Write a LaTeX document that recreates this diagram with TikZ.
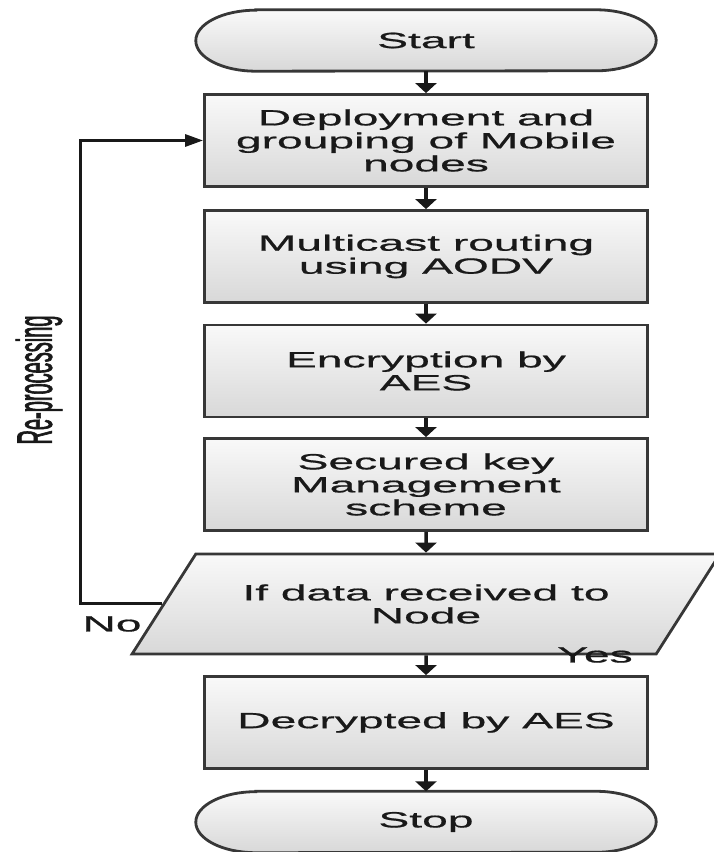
\documentclass[tikz,border=0pt]{standalone}
\usepackage{fontspec}
\usetikzlibrary{arrows.meta, positioning, calc, shapes.geometric, backgrounds}
\newfontfamily\flowfont[FakeStretch=2.1, FakeBold=0.8]{Liberation Sans}
\newfontfamily\sidefont[FakeStretch=0.4, FakeBold=1.2]{Liberation Sans}
\definecolor{boxline}{RGB}{55,55,55}
\definecolor{boxtop}{RGB}{249,249,249}
\definecolor{boxbottom}{RGB}{216,216,216}
\definecolor{ink}{RGB}{25,25,25}

\tikzset{
  flowtext/.style={text=ink, font=\flowfont\fontsize{22}{23}\selectfont},
  stepbox/.style={flowtext, rectangle, draw=boxline, line width=2.8pt,
    top color=boxtop, bottom color=boxbottom, minimum width=443pt,
    minimum height=92pt, inner sep=0pt, align=center},
  termbox/.style={flowtext, rectangle, minimum width=460pt,
    minimum height=61pt, inner sep=0pt},
  termline/.style={draw=boxline, line width=2.8pt, top color=boxtop,
    bottom color=boxbottom},
  decision/.style={flowtext, trapezium, trapezium left angle=37.6,
    trapezium right angle=142.4, trapezium stretches=true,
    minimum width=591pt, minimum height=100pt, draw=boxline,
    line width=2.8pt, top color=boxtop, bottom color=boxbottom,
    inner sep=0pt, align=center},
  flow/.style={draw=ink, line width=3.5pt, -{Triangle[length=10pt, width=21pt]}},
  loopback/.style={draw=ink, line width=3pt, -{Triangle[length=18pt, width=12pt]}},
}

\begin{document}
\begin{tikzpicture}[x=1pt, y=1pt]
  \useasboundingbox (0,0) rectangle (713,852);

  % main column
  \node[termbox] (start) at (426,811.5) {Start};
  \node[stepbox] (deploy) at (426,711.5) {Deployment and\\grouping of Mobile\\nodes};
  \node[stepbox] (route) at (426,595.5) {Multicast routing\\using AODV};
  \node[stepbox] (encrypt) at (426,481) {Encryption by\\AES};
  \node[stepbox] (keymgmt) at (426,367.5) {Secured key\\Management\\scheme};
  \node[decision] (ifdata) at (426,248) {If data received to\\Node};
  \node[stepbox] (decrypt) at (426,129.5) {Decrypted by AES};
  \node[termbox] (stop) at (426,30) {Stop};

  % start / stop outlines
  \begin{scope}[on background layer]
    \foreach \t in {start, stop}
      \path[termline] ($(\t.north west)+(60,0)$) -- ($(\t.north east)+(-60,0)$)
        arc[start angle=90, end angle=-90, x radius=60pt, y radius=30.5pt]
        -- ($(\t.south west)+(60,0)$)
        arc[start angle=270, end angle=90, x radius=60pt, y radius=30.5pt] -- cycle;
  \end{scope}

  \foreach \a/\b in {start/deploy, deploy/route, route/encrypt, encrypt/keymgmt,
                     keymgmt/ifdata, ifdata/decrypt, decrypt/stop}
    \draw[flow] (\a) -- (\b);

  % loop back
  \coordinate (loopx) at (80,0);
  \draw[loopback] (ifdata.west) -- (ifdata.west -| loopx) |- (deploy.west);
  \node[rotate=90, text=ink, font=\sidefont\fontsize{50}{50}\selectfont] (reproc) at (39,472) {Re-processing};

  \node[flowtext] (no) at (112,228) {No};
  \node[flowtext] (yes) at (595,197) {Yes};
\end{tikzpicture}
\end{document}
